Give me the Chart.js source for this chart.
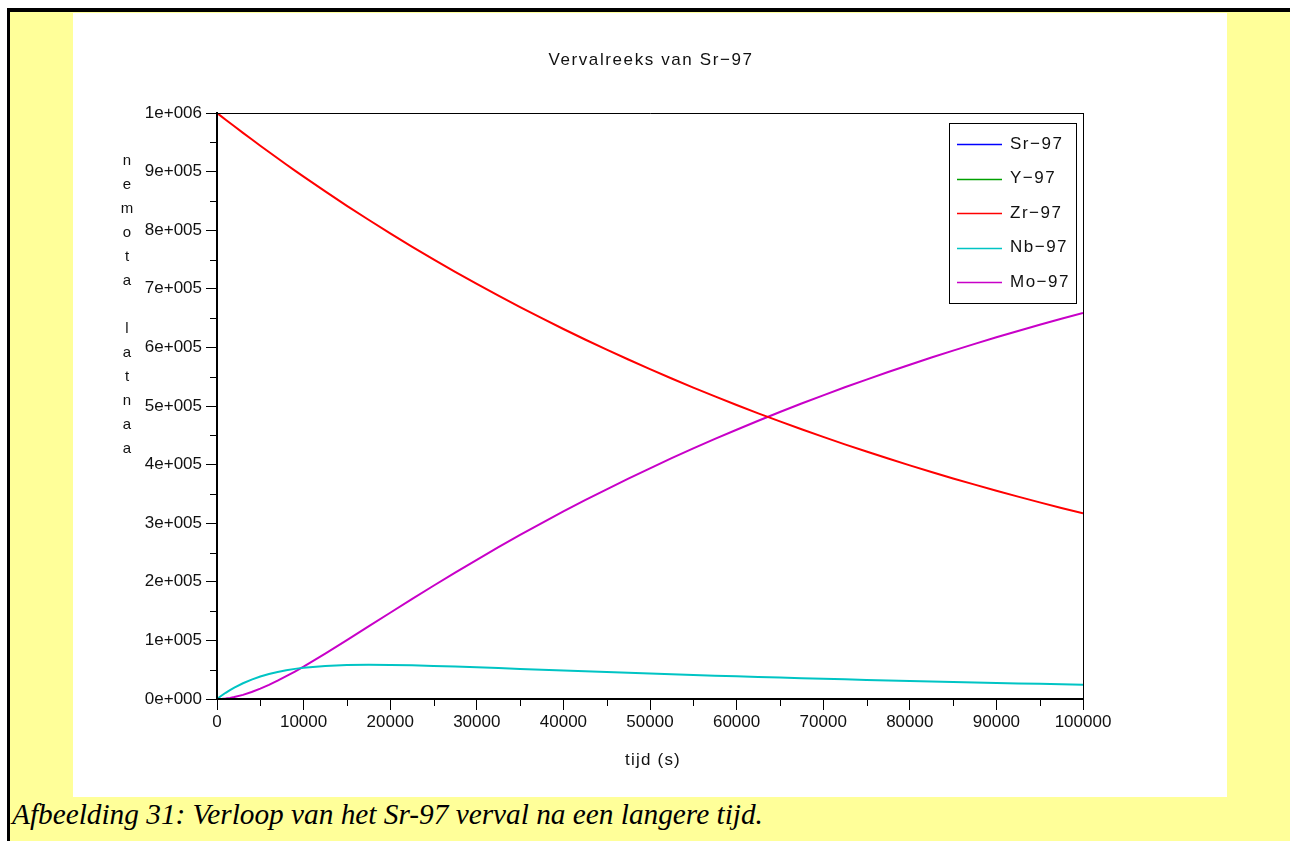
<!DOCTYPE html>
<html>
<head>
<meta charset="utf-8">
<title>Vervalreeks van Sr-97</title>
<script src="https://cdn.jsdelivr.net/npm/chart.js@4.4.1/dist/chart.umd.min.js"></script>
<style>
  html, body { margin: 0; padding: 0; background: #ffffff; width: 1290px; height: 841px; overflow: hidden; }
  #frame {
    position: absolute; left: 7px; top: 8px; width: 1290px; height: 841px;
    border-top: 4px solid #000; border-left: 3px solid #000;
    background: #ffff99;
  }
  #plotbox { position: absolute; left: 73px; top: 13px; width: 1154px; height: 784px; background: #fff; }
  #caption {
    position: absolute; left: 12px; top: 800px; margin: 0; line-height: 1;
    font-family: "Liberation Serif", "Times New Roman", serif; font-style: italic;
    font-size: 29.3px; color: #000; white-space: nowrap;
  }
</style>
</head>
<body>
<div id="frame"></div>
<div id="plotbox"><canvas id="chart" width="1154" height="784"></canvas></div>
<p id="caption">Afbeelding 31: Verloop van het Sr-97 verval na een langere tijd.</p>
<script>
// time grid (s)
const times = [0, 500, 1000, 1500, 2000, 3000, 4000, 5000, 6000, 7000, 8000, 9000, 10000,
  12500, 15000, 17500, 20000, 22500, 25000, 27500, 30000, 32500, 35000, 37500, 40000,
  42500, 45000, 47500, 50000, 52500, 55000, 57500, 60000, 62500, 65000, 67500, 70000,
  72500, 75000, 77500, 80000, 82500, 85000, 87500, 90000, 92500, 95000, 97500, 100000];

// number of atoms per nuclide
const zr97 = [1000000, 994300, 988600, 982900, 977300, 966100, 955100, 944200, 933400, 922700, 912100, 901700, 891400,
  866200, 841600, 817800, 794600, 772100, 750200, 729000, 708300, 688300, 668800, 649800, 631400,
  613500, 596200, 579300, 562900, 546900, 531400, 516400, 501700, 487500, 473700, 460300, 447300,
  434600, 422300, 410300, 398700, 387400, 376400, 365800, 355400, 345300, 335500, 326000, 316800];
const nb97 = [0, 5500, 10600, 15200, 19400, 26900, 33100, 38300, 42600, 46100, 49000, 51400, 53300,
  56500, 58000, 58500, 58200, 57500, 56500, 55300, 54000, 52700, 51300, 50000, 48600,
  47300, 46000, 44700, 43400, 42200, 41000, 39800, 38700, 37600, 36600, 35500, 34500,
  33500, 32600, 31700, 30800, 29900, 29000, 28200, 27400, 26600, 25900, 25200, 24400];
const mo97 = [0, 200, 900, 1900, 3300, 7000, 11900, 17600, 24100, 31200, 38900, 46900, 55300,
  77400, 100400, 123800, 147200, 170400, 193300, 215700, 237600, 259000, 279900, 300200, 320000,
  339200, 357900, 376100, 393700, 410900, 427600, 443800, 459500, 474900, 489700, 504200, 518200,
  531900, 545100, 558000, 570500, 582700, 594500, 606000, 617200, 628000, 638600, 648800, 658800];

// the short-lived parents are gone within seconds
const shortTimes = [0, 25000, 50000, 75000, 100000];
const sr97 = [0, 0, 0, 0, 0];
const y97 = [0, 0, 0, 0, 0];

const seriesNames = ['Sr\u221297', 'Y\u221297', 'Zr\u221297', 'Nb\u221297', 'Mo\u221297'];
const seriesColors = ['#0000ff', '#00a000', '#ff0000', '#00c4c4', '#c800c8'];

const chartTitle = 'Vervalreeks van Sr\u221297';
const xAxisTitle = 'tijd (s)';
const yAxisTitle = 'aantal atomen';

const FONT = '"Liberation Sans", Arial, sans-serif';

function pts(xs, ys) { return xs.map((x, i) => ({ x: x, y: ys[i] })); }

function sciLabel(v) {
  v = Math.round(v);
  if (v === 0) return '0e+000';
  const e = Math.floor(Math.log10(v) + 1e-9);
  const m = Math.round(v / Math.pow(10, e));
  return m + 'e+' + String(e).padStart(3, '0');
}

const seriesData = [pts(shortTimes, sr97), pts(shortTimes, y97), pts(times, zr97), pts(times, nb97), pts(times, mo97)];

const decorations = {
  id: 'decorations',
  afterDatasetsDraw(chart) {
    const ctx = chart.ctx;
    const a = chart.chartArea;
    const xs = chart.scales.x, ys = chart.scales.y;
    ctx.save();
    ctx.strokeStyle = '#000';
    // minor ticks halfway between the labelled ones
    ctx.lineWidth = 1;
    ctx.beginPath();
    const xt = xs.ticks;
    for (let i = 0; i < xt.length - 1; i++) {
      const px = Math.round(xs.getPixelForValue((xt[i].value + xt[i + 1].value) / 2)) + 0.5;
      ctx.moveTo(px, a.bottom); ctx.lineTo(px, a.bottom + 7);
    }
    const yt = ys.ticks;
    for (let i = 0; i < yt.length - 1; i++) {
      const py = Math.round(ys.getPixelForValue((yt[i].value + yt[i + 1].value) / 2)) + 0.5;
      ctx.moveTo(a.left - 7, py); ctx.lineTo(a.left, py);
    }
    ctx.stroke();
    // top and right frame
    ctx.beginPath();
    ctx.moveTo(a.left, a.top + 0.5); ctx.lineTo(a.right + 0.5, a.top + 0.5);
    ctx.moveTo(a.right + 0.5, a.top); ctx.lineTo(a.right + 0.5, a.bottom);
    ctx.stroke();
    // axes
    ctx.lineWidth = 2;
    ctx.beginPath();
    ctx.moveTo(a.left, a.top); ctx.lineTo(a.left, a.bottom + 1);
    ctx.moveTo(a.left - 1, a.bottom); ctx.lineTo(a.right + 1, a.bottom);
    ctx.stroke();

    // legend box
    const bx = a.right - 134, by = a.top + 10, bw = 127, bh = 180;
    ctx.fillStyle = '#fff';
    ctx.fillRect(bx, by, bw, bh);
    ctx.lineWidth = 1;
    ctx.strokeRect(bx + 0.5, by + 0.5, bw, bh);
    ctx.font = '17px ' + FONT;
    ctx.letterSpacing = '1.5px';
    ctx.textBaseline = 'middle';
    ctx.textAlign = 'left';
    chart.data.datasets.forEach((ds, i) => {
      const ry = by + 21 + i * 34.6;
      ctx.strokeStyle = ds.borderColor;
      ctx.lineWidth = 1.5;
      ctx.beginPath();
      ctx.moveTo(bx + 8, Math.round(ry) + 0.5); ctx.lineTo(bx + 53, Math.round(ry) + 0.5);
      ctx.stroke();
      ctx.fillStyle = '#111';
      ctx.fillText(ds.label, bx + 61, ry);
    });

    // titles
    ctx.fillStyle = '#111';
    ctx.textAlign = 'center';
    ctx.font = '17px ' + FONT;
    ctx.letterSpacing = '1.6px';
    ctx.fillText(chartTitle, (a.left + a.right) / 2 + 1, 47);
    ctx.letterSpacing = '1.2px';
    ctx.fillText(xAxisTitle, (a.left + a.right) / 2 + 3, a.bottom + 61);
    // y title, one letter per line, read upward
    ctx.letterSpacing = '0px';
    ctx.font = '15px ' + FONT;
    const letters = yAxisTitle.split('').reverse();
    letters.forEach((ch, i) => {
      if (ch !== ' ') ctx.fillText(ch, 54, a.top + 48 + i * 24);
    });
    ctx.restore();
  }
};

new Chart(document.getElementById('chart'), {
  type: 'line',
  data: {
    datasets: seriesNames.map((name, i) => ({
      label: name,
      data: seriesData[i],
      borderColor: seriesColors[i],
      backgroundColor: seriesColors[i],
      borderWidth: 2,
      pointRadius: 0,
      tension: 0,
      fill: false
    }))
  },
  options: {
    responsive: false,
    animation: false,
    devicePixelRatio: 1,
    layout: { padding: { left: 4, right: 144, top: 100, bottom: 58 } },
    plugins: { legend: { display: false }, title: { display: false }, tooltip: { enabled: false } },
    scales: {
      x: {
        type: 'linear', min: 0, max: 100000,
        afterFit(scale) { scale.height = 40; },
        ticks: {
          stepSize: 10000, color: '#111', padding: 2, maxRotation: 0, autoSkip: false,
          font: { family: FONT, size: 17 },
          callback: (v) => String(Math.round(v))
        },
        grid: { drawOnChartArea: false, drawTicks: true, tickLength: 11, color: '#000', lineWidth: 1 },
        border: { display: true, color: '#000', width: 2 }
      },
      y: {
        type: 'linear', min: 0, max: 1000000,
        afterFit(scale) { scale.width = 140; },
        ticks: {
          stepSize: 100000, color: '#111', padding: 4, autoSkip: false,
          font: { family: FONT, size: 17 },
          callback: (v) => sciLabel(v)
        },
        grid: { drawOnChartArea: false, drawTicks: true, tickLength: 11, color: '#000', lineWidth: 1 },
        border: { display: true, color: '#000', width: 2 }
      }
    }
  },
  plugins: [decorations]
});
</script>
</body>
</html>
